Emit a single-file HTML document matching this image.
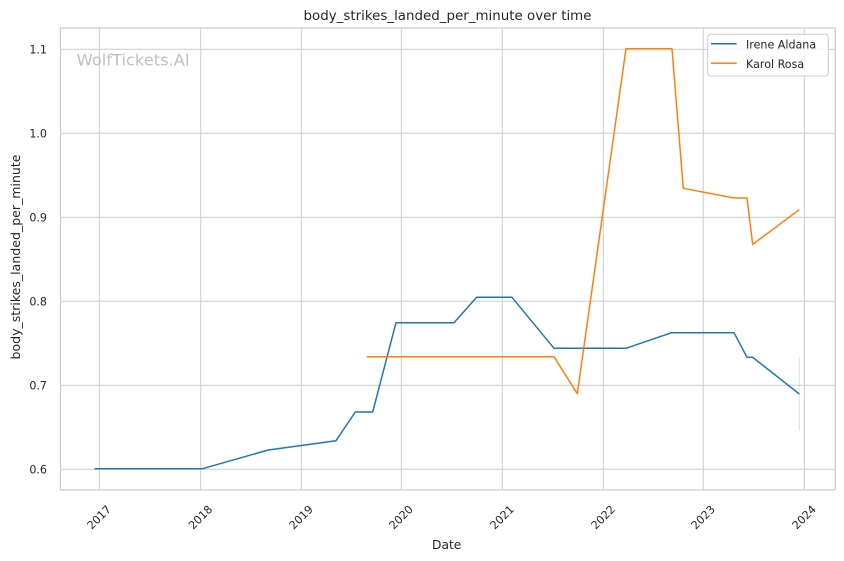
<!DOCTYPE html>
<html>
<head>
<meta charset="utf-8">
<style>
  html, body { margin: 0; padding: 0; background: #ffffff; }
  svg { display: block; }
  text { font-family: "DejaVu Sans", "Liberation Sans", sans-serif; fill: #262626; }
</style>
</head>
<body>
<svg width="844" height="561" viewBox="0 0 844 561" xmlns="http://www.w3.org/2000/svg">
  <rect x="0" y="0" width="844" height="561" fill="#ffffff"/>

  <!-- gridlines horizontal -->
  <g stroke="#cccccc" stroke-width="1" fill="none">
    <line x1="60.5" y1="469.3" x2="835.3" y2="469.3"/>
    <line x1="60.5" y1="385.3" x2="835.3" y2="385.3"/>
    <line x1="60.5" y1="301.3" x2="835.3" y2="301.3"/>
    <line x1="60.5" y1="217.3" x2="835.3" y2="217.3"/>
    <line x1="60.5" y1="133.3" x2="835.3" y2="133.3"/>
    <line x1="60.5" y1="49.3" x2="835.3" y2="49.3"/>
    <!-- vertical -->
    <line x1="99.3" y1="28" x2="99.3" y2="490"/>
    <line x1="200.7" y1="28" x2="200.7" y2="490"/>
    <line x1="301.3" y1="28" x2="301.3" y2="490"/>
    <line x1="401.3" y1="28" x2="401.3" y2="490"/>
    <line x1="502.3" y1="28" x2="502.3" y2="490"/>
    <line x1="603.3" y1="28" x2="603.3" y2="490"/>
    <line x1="703.3" y1="28" x2="703.3" y2="490"/>
    <line x1="804.3" y1="28" x2="804.3" y2="490"/>
  </g>

  <!-- spines -->
  <rect x="60.5" y="28" width="774.8" height="462" fill="none" stroke="#cccccc" stroke-width="1.25"/>

  <!-- watermark -->
  <text x="76.7" y="65.5" font-size="16" style="fill:#c0c0c0" textLength="113" lengthAdjust="spacingAndGlyphs">WolfTickets.AI</text>

  <!-- CI light line -->
  <line x1="799.3" y1="357.3" x2="799.3" y2="430.7" stroke="#1f77b4" stroke-opacity="0.2" stroke-width="1"/>

  <!-- Irene Aldana -->
  <polyline fill="none" stroke="#1f77b4" stroke-width="1.5" stroke-linejoin="round"
    points="94.5,468.7 202.5,468.7 268.3,450 336,440.7 355.3,412 372.7,412 396,322.7 454,322.7 476.7,297.3 512,297.3 554,348.3 626,348.3 671.7,332.7 734,332.7 747,357.3 752.7,357.3 799.3,394"/>

  <!-- Karol Rosa -->
  <polyline fill="none" stroke="#ff7f0e" stroke-width="1.5" stroke-linejoin="round"
    points="366.7,356.7 554,356.7 577.3,393.7 626,48.7 672,48.7 683.3,188.3 734,198 747,198 752.7,244.3 799.3,209.7"/>

  <!-- y tick labels -->
  <g font-size="11.1" text-anchor="end">
    <text x="47" y="473.3">0.6</text>
    <text x="47" y="389.3">0.7</text>
    <text x="47" y="305.3">0.8</text>
    <text x="47" y="221.3">0.9</text>
    <text x="47" y="137.3">1.0</text>
    <text x="47" y="53.3">1.1</text>
  </g>

  <!-- x tick labels -->
  <g font-size="11.1" text-anchor="middle" dominant-baseline="central">
    <text x="99.3" y="517.5" transform="rotate(-45 99.3 517.5)">2017</text>
    <text x="200.7" y="517.5" transform="rotate(-45 200.7 517.5)">2018</text>
    <text x="301.3" y="517.5" transform="rotate(-45 301.3 517.5)">2019</text>
    <text x="401.3" y="517.5" transform="rotate(-45 401.3 517.5)">2020</text>
    <text x="502.3" y="517.5" transform="rotate(-45 502.3 517.5)">2021</text>
    <text x="603.3" y="517.5" transform="rotate(-45 603.3 517.5)">2022</text>
    <text x="703.3" y="517.5" transform="rotate(-45 703.3 517.5)">2023</text>
    <text x="804.3" y="517.5" transform="rotate(-45 804.3 517.5)">2024</text>
  </g>

  <!-- axis labels -->
  <text x="446.7" y="549" font-size="12.3" text-anchor="middle">Date</text>
  <text x="20" y="257" font-size="12.5" text-anchor="middle" transform="rotate(-90 20 257)" textLength="205" lengthAdjust="spacingAndGlyphs">body_strikes_landed_per_minute</text>

  <!-- title -->
  <text x="447.5" y="20" font-size="13.3" text-anchor="middle" textLength="288" lengthAdjust="spacingAndGlyphs">body_strikes_landed_per_minute over time</text>

  <!-- legend -->
  <rect x="707.7" y="34.3" width="120.6" height="41.7" rx="3" ry="3" fill="#ffffff" fill-opacity="0.8" stroke="#cccccc" stroke-width="1"/>
  <line x1="711" y1="43.7" x2="736.7" y2="43.7" stroke="#1f77b4" stroke-width="1.5"/>
  <line x1="711" y1="63.3" x2="736.7" y2="63.3" stroke="#ff7f0e" stroke-width="1.5"/>
  <text x="746" y="48.5" font-size="11.1">Irene Aldana</text>
  <text x="746" y="68" font-size="11.1">Karol Rosa</text>
</svg>
</body>
</html>
